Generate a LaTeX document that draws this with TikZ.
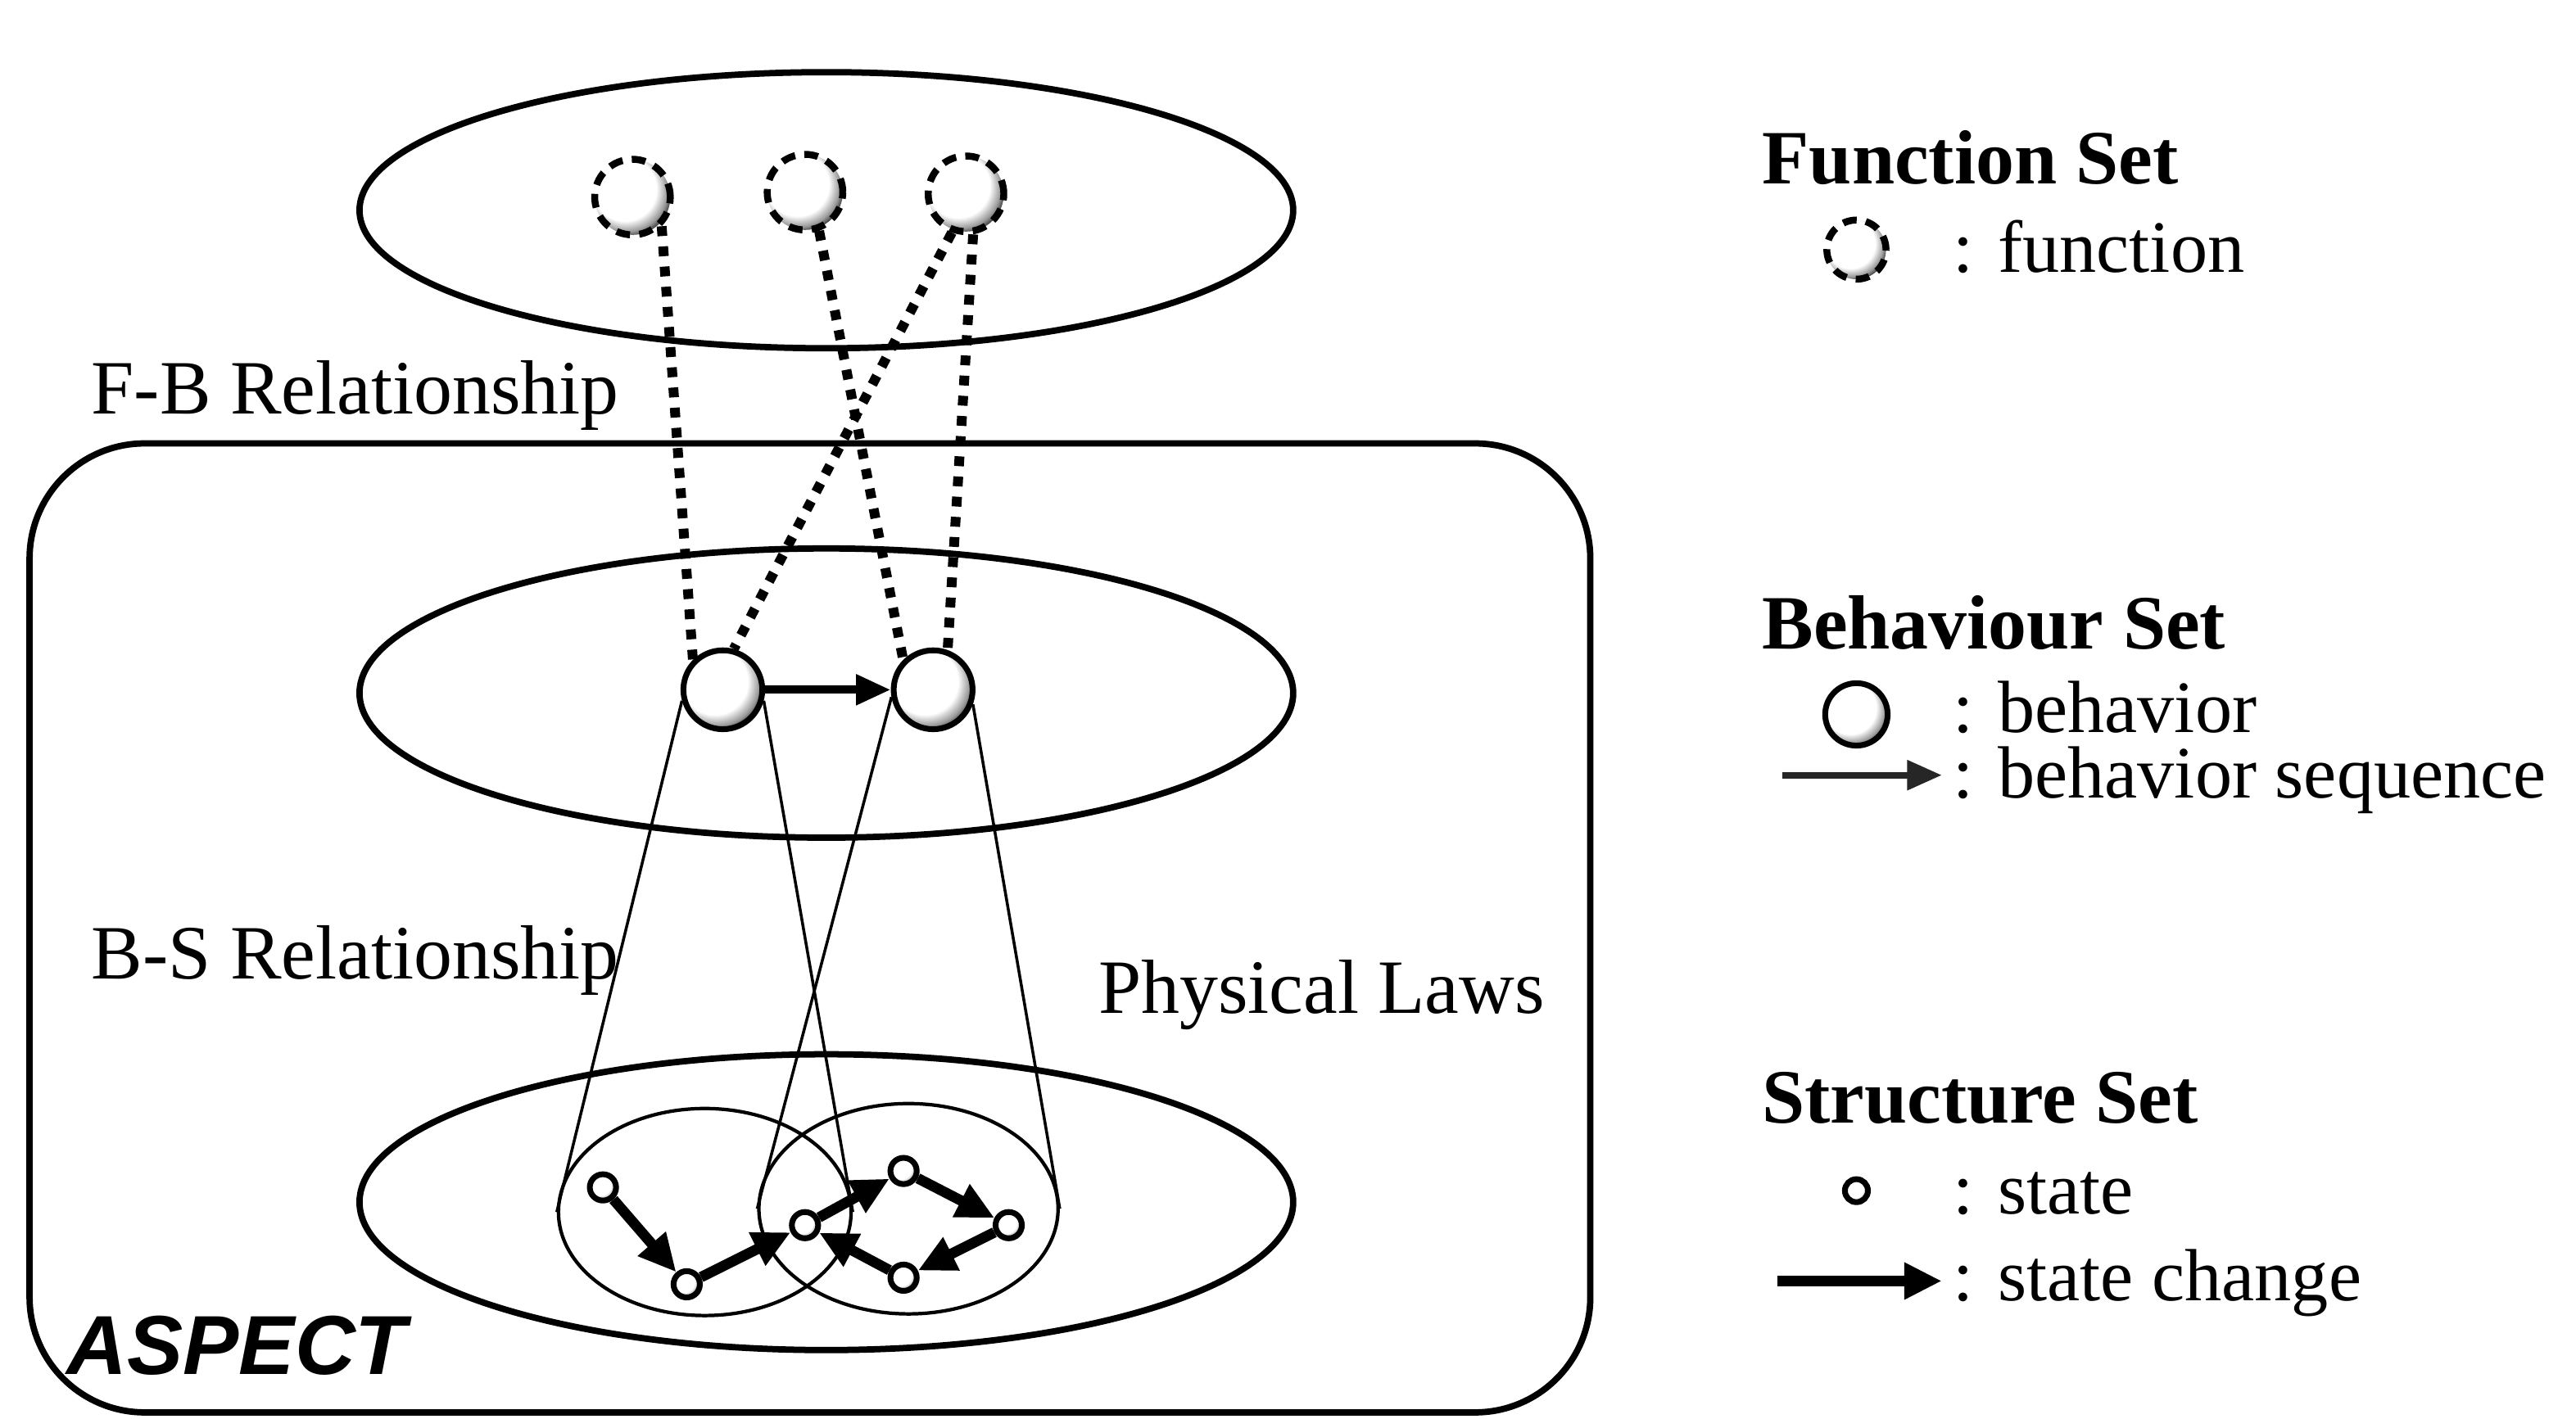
\documentclass[tikz,border=0pt]{standalone}
\usepackage{fontspec}
\setmainfont{Liberation Serif}
\newfontfamily\aspectfont{Liberation Sans}
\usetikzlibrary{shapes.geometric,arrows.meta,positioning}
\pgfdeclareradialshading{orb}{\pgfpoint{-9bp}{9bp}}{%
  color(0bp)=(white); color(21bp)=(white); color(27bp)=(black!40);
  color(31bp)=(black!90); color(50bp)=(black)}
\tikzset{
  lbl/.style={font=\fontsize{13.3}{16}\selectfont,inner sep=0pt,anchor=base west},
  leglbl/.style={lbl,font=\fontsize{12.8}{15}\selectfont},
  headlbl/.style={lbl,font=\fontsize{13.3}{16}\selectfont\bfseries},
  setring/.style={ellipse,draw,line width=1.1pt,inner sep=0pt,minimum width=5.68cm,minimum height=#1},
  subring/.style={ellipse,draw,line width=0.6pt,inner sep=0pt},
  funcball/.style={circle,draw,shade,shading=orb,line width=1.2pt,dash pattern=on 2.4pt off 1.6pt,
    inner sep=0pt,minimum size=#1},
  funcball/.default={0.46cm},
  behball/.style={circle,draw,shade,shading=orb,line width=1pt,inner sep=0pt,minimum size=#1},
  behball/.default={0.48cm},
  stateball/.style={circle,draw,shade,shading=orb,line width=1pt,inner sep=0pt,minimum size=0.16cm},
  fblink/.style={line width=1.7pt,dash pattern=on 1.7pt off 1.8pt},
  bslink/.style={line width=0.5pt},
  seqarrow/.style={-{Triangle[length=6pt,width=5pt]},line width=1.4pt},
  chgarrow/.style={-{Triangle[length=6.5pt,width=6pt]},line width=1.8pt},
}
\begin{document}
\begin{tikzpicture}[x=0.01cm,y=-0.01cm]
  \useasboundingbox (0,0) rectangle (1568,864);
  \node[setring=1.68cm] (fset) at (503,128) {};
  \draw[line width=1.1pt,rounded corners=0.7cm] (18,270) rectangle (968,860);
  \node[setring=1.76cm] (bset) at (503,422) {};
  \node[setring=1.80cm] (sset) at (503,732) {};
  \node[subring,minimum width=1.78cm,minimum height=1.26cm] (lsub) at (429,738) {};
  \node[subring,minimum width=1.82cm,minimum height=1.28cm] (rsub) at (553,736) {};
  \node[funcball] (f1) at (385,120) {};
  \node[funcball] (f2) at (490,117) {};
  \node[funcball] (f3) at (588,118) {};
  \node[behball] (b1) at (440,420) {};
  \node[behball] (b2) at (568,420) {};
  \node[stateball] (s1) at (367,723) {};
  \node[stateball] (s2) at (418,782) {};
  \node[stateball] (s3) at (490,746) {};
  \node[stateball] (s4) at (550,713) {};
  \node[stateball] (s5) at (614,746) {};
  \node[stateball] (s6) at (550,778) {};
  \draw[fblink] (f1.-45) -- (b1.135);
  \draw[fblink] (f2.-70) -- (b2.135);
  \draw[fblink] (f3.-110) -- (b1.75);
  \draw[fblink] (f3.-80) -- (b2.70);
  \draw[bslink] (b1.-165) -- (lsub.west);
  \draw[bslink] (b1.-15) -- (lsub.east);
  \draw[bslink] (b2.-170) -- (rsub.west);
  \draw[bslink] (b2.-20) -- (rsub.east);
  \draw[seqarrow] (b1) -- (b2);
  \draw[chgarrow] (s1) -- (s2);
  \draw[chgarrow] (s2) -- (s3);
  \draw[chgarrow] (s3) -- (s4);
  \draw[chgarrow] (s4) -- (s5);
  \draw[chgarrow] (s5) -- (s6);
  \draw[chgarrow] (s6) -- (s3);
  \node[lbl] (fblbl) at (55,252) {F-B Relationship};
  \node[lbl] (bslbl) at (55,596) {B-S Relationship};
  \node[lbl] (phys) at (668,617) {Physical Laws};
  \node[inner sep=0pt,anchor=base west,font=\fontsize{14.5}{17}\aspectfont\bfseries\itshape] (aspect) at (40,837) {ASPECT};
  \node[headlbl] (ftitle) at (1072,112) {Function Set};
  \node[funcball=0.36cm] (fleg) at (1130,152) {};
  \node[leglbl] (ftext) at (1188,166) {: function};
  \node[headlbl] (btitle) at (1072,395) {Behaviour Set};
  \node[behball=0.38cm] (bleg) at (1130,435) {};
  \node[leglbl] (btext) at (1188,446) {: behavior};
  \coordinate (bseq1) at (1085,472);
  \coordinate (bseq2) at (1182,472);
  \draw[seqarrow,line width=1.1pt,black!85] (bseq1) -- (bseq2);
  \node[leglbl] (bseqtext) at (1188,486) {: behavior sequence};
  \node[headlbl] (stitle) at (1072,684) {Structure Set};
  \node[stateball,minimum size=0.14cm] (sleg) at (1130,725) {};
  \node[leglbl] (stext) at (1188,739) {: state};
  \coordinate (schg1) at (1082,780);
  \coordinate (schg2) at (1182,780);
  \draw[chgarrow] (schg1) -- (schg2);
  \node[leglbl] (schgtext) at (1188,792) {: state change};
\end{tikzpicture}
\end{document}
